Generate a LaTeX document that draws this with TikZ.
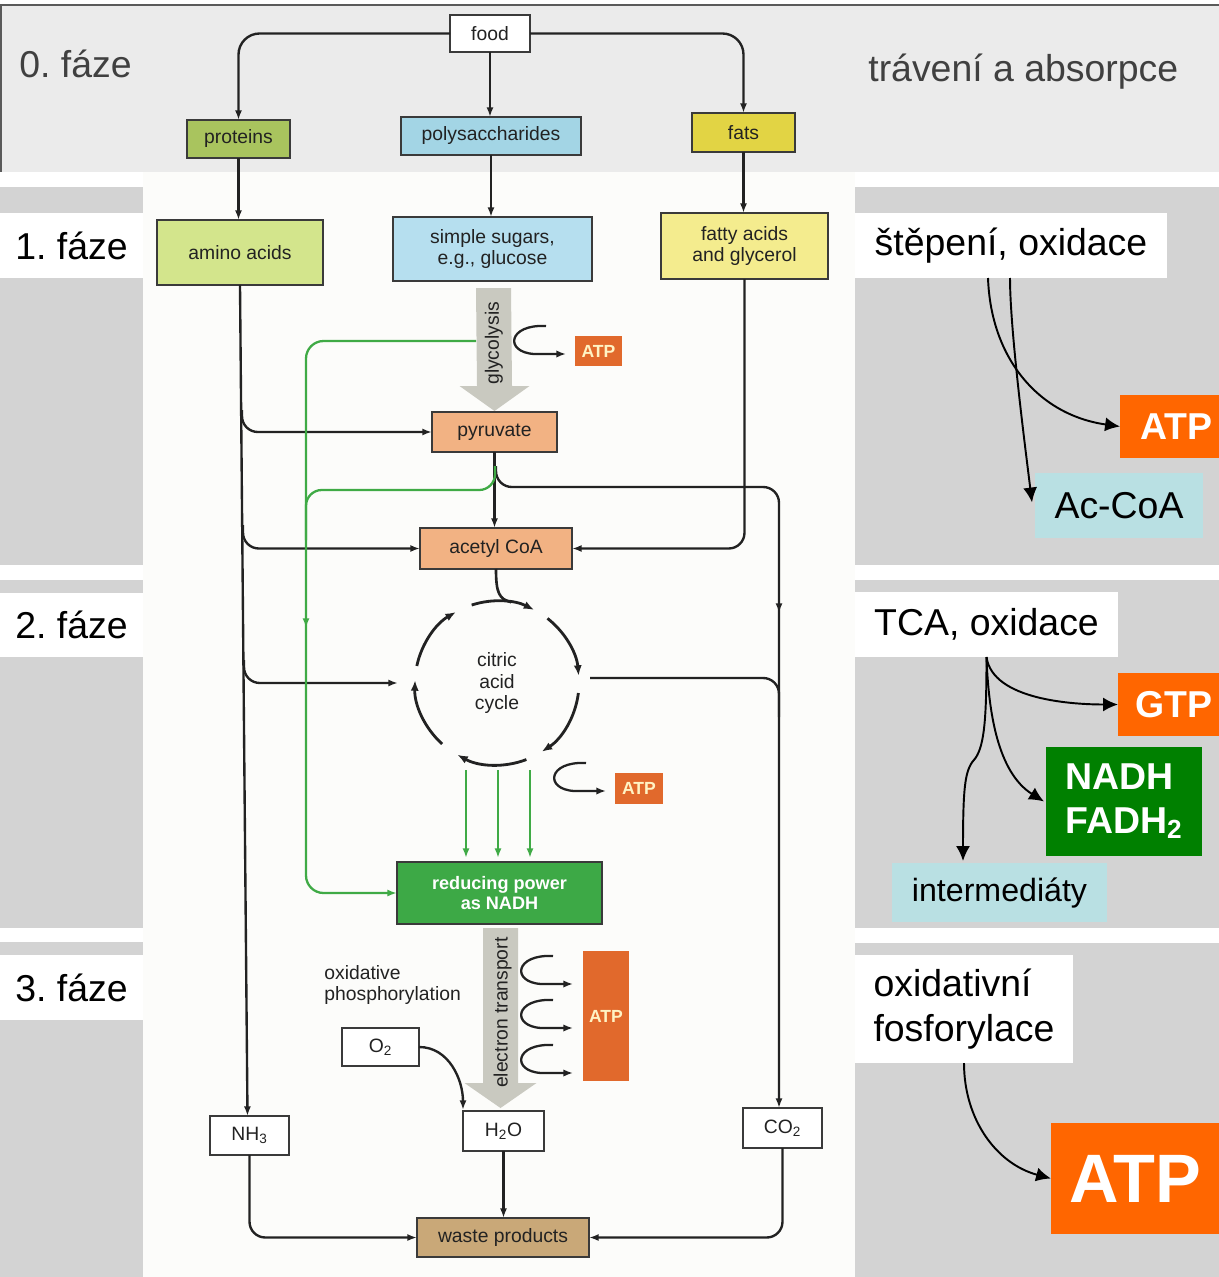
\documentclass[tikz,border=0pt]{standalone}
\usepackage{fontspec}
\setmainfont{Liberation Sans}
\usetikzlibrary{arrows.meta,calc}
\frenchspacing

\definecolor{bandgrey}{HTML}{EBEBEB}
\definecolor{panelgrey}{HTML}{D3D3D3}
\definecolor{topline}{HTML}{5A5A5A}
\definecolor{labgrey}{HTML}{404040}
\definecolor{inkc}{HTML}{222222}
\definecolor{boxline}{HTML}{3A3A3A}
\definecolor{cProt}{HTML}{A9C45E}
\definecolor{cPoly}{HTML}{A3D5E5}
\definecolor{cFats}{HTML}{E2D444}
\definecolor{cAmino}{HTML}{D3E58C}
\definecolor{cSugar}{HTML}{B6DFEF}
\definecolor{cFatty}{HTML}{F4EC8E}
\definecolor{cPyr}{HTML}{F2B283}
\definecolor{cAtp}{HTML}{E1692C}
\definecolor{cAtpTxt}{HTML}{FFF3C4}
\definecolor{cRed}{HTML}{3DA946}
\definecolor{cWaste}{HTML}{C9A878}
\definecolor{cArrow}{HTML}{C9C9C0}
\definecolor{cGreen}{HTML}{3FAA45}
\definecolor{rOrange}{HTML}{FF6600}
\definecolor{rCyan}{HTML}{B9E0E3}
\definecolor{rGreen}{HTML}{008000}
\definecolor{paper}{HTML}{FCFCFA}

\newcommand\fsmall{\fontsize{11}{12.5}\selectfont}
\newcommand\fbig{\fontsize{21.3}{25.5}\selectfont}
\newcommand\fhugeatp{\fontsize{39}{44}\selectfont\bfseries}

% C-shaped side arrow releasing ATP; #1 is the leftmost point of the curve
\newcommand\catp[1]{%
  \draw[carr] ($(#1)+(34,-14)$) .. controls ($(#1)+(-4,-16)$) and ($(#1)+(-8,12)$) .. ($(#1)+(22,14)$) -- ($(#1)+(54,14)$);}

\begin{document}
\begin{tikzpicture}[x=0.02cm,y=-0.02cm,
  wh/.style 2 args={minimum width=#1*0.02cm, minimum height=#2*0.02cm},
  dbox/.style={draw=boxline, line width=0.9pt, inner sep=0pt, outer sep=0pt,
    font=\fsmall, text=inkc, align=center},
  atps/.style={fill=cAtp, inner sep=0pt, outer sep=0pt, text=cAtpTxt,
    font=\fontsize{10}{12}\selectfont\bfseries},
  phase/.style={fill=white, inner sep=0pt, outer sep=0pt, font=\fbig, text=black},
  rlabel/.style={fill=white, inner sep=0pt, outer sep=0pt, font=\fbig, text=black, align=left},
  rbox/.style={inner sep=0pt, outer sep=0pt, font=\fbig, text=black},
  line/.style={draw=inkc, line width=1.35pt},
  arr/.style={line, -{Latex[length=5.5pt,width=4pt]}},
  gline/.style={draw=cGreen, line width=1.3pt},
  garr/.style={gline, -{Latex[length=5.5pt,width=4pt]}},
  cyc/.style={draw=inkc, line width=1.6pt, -{Latex[length=6pt,width=4.6pt]}},
  carr/.style={draw=inkc, line width=1.3pt, -{Latex[length=5.5pt,width=4.2pt]}},
  rarr/.style={draw=black, line width=1.1pt, -{Latex[length=8.5pt,width=8pt]}},
  bigarrow/.style={fill=cArrow}]

\useasboundingbox (0,0) rectangle (1219,1277);
\fill[white] (0,0) rectangle (1219,1277);

% ---------- background bands ----------
\fill[paper] (143,172) rectangle (855,1277);
\fill[bandgrey] (0,5) rectangle (1219,172);
\draw[topline, line width=1.2pt] (0,5) -- (1219,5);
\draw[topline, line width=1.2pt] (0.6,5) -- (0.6,172);

\fill[panelgrey] (0,187) rectangle (143,565);
\fill[panelgrey] (0,580) rectangle (143,928);
\fill[panelgrey] (0,942) rectangle (143,1277);
\fill[panelgrey] (855,187) rectangle (1219,565);
\fill[panelgrey] (855,580) rectangle (1219,928);
\fill[panelgrey] (855,943) rectangle (1219,1277);

% ---------- phase labels ----------
\node[font=\fbig, text=labgrey, anchor=base west, inner sep=0pt] (ph0) at (19,78) {0. fáze};
\node[font=\fbig, text=labgrey, anchor=base west, inner sep=0pt] (ph0r) at (868,82) {trávení a absorpce};
\node[phase, wh={143}{65}, anchor=north west] (ph1) at (0,213) {1. fáze};
\node[phase, wh={143}{64}, anchor=north west] (ph2) at (0,593) {2. fáze};
\node[phase, wh={143}{65}, anchor=north west] (ph3) at (0,955) {3. fáze};

% ---------- right column ----------
\node[rlabel, wh={312}{65}, anchor=north west] (r1) at (855,213) {štěpení, oxidace};
\node[rbox, fill=rOrange, text=white, font=\fbig\bfseries, wh={99}{63}, anchor=north west] (atpA) at (1120,395) {\hspace{8pt}ATP};
\node[rbox, fill=rCyan, wh={168}{65}, anchor=north west] (acoa) at (1035,473) {Ac-CoA};

\node[rlabel, wh={263}{65}, anchor=north west] (r2) at (855,592) {TCA, oxidace};
\node[rbox, fill=rOrange, text=white, font=\fbig\bfseries, wh={101}{63}, anchor=north west] (gtp) at (1118,673) {\hspace{6pt}GTP};
\node[rbox, fill=rGreen, text=white, font=\fbig\bfseries, align=left, wh={156}{109}, anchor=north west] (nadh) at (1046,747) {NADH\\[-1pt]FADH\textsubscript{2}};
\node[rbox, fill=rCyan, font=\fontsize{18.3}{22}\selectfont, wh={215}{59}, anchor=north west] (inter) at (892,863) {intermediáty};

\node[rlabel, wh={218}{108}, anchor=north west, inner xsep=18*0.02cm] (r3) at (855,955) {oxidativní\\fosforylace};
\node[rbox, fill=rOrange, text=white, font=\fhugeatp, wh={168}{111}, anchor=north west] (atpB) at (1051,1123) {ATP};

\coordinate (r1a) at ($(r1.south west)+(133,0)$);
\coordinate (r1b) at ($(r1.south west)+(155,0)$);
\draw[rarr] (r1a) to[out=-88,in=172,looseness=1.05] (atpA.west);
\draw[rarr] (r1b) to[out=-90,in=97,looseness=0.6] ($(acoa.west)+(-3,-3)$);

\coordinate (tipI) at ($(inter.north west)+(71,-2)$);
\draw[rarr] (r2.south) to[out=-82,in=180,looseness=0.8] (gtp.west);
\draw[rarr] (r2.south) to[out=-88,in=148,looseness=0.9] ($(nadh.west)+(-2,0)$);
\draw[rarr] (r2.south) .. controls ($(r2.south)+(0,60)$) and ($(r2.south)+(-2,88)$) .. ($(r2.south)+(-11,101)$)
  .. controls ($(r2.south)+(-21,112)$) and ($(tipI)+(0,-80)$) .. (tipI);
\draw[rarr] (r3.south) to[out=-90,in=165,looseness=1.0] (atpB.west);

% ---------- central scheme: boxes ----------
\node[dbox, fill=white, wh={80}{37}] (food) at (490,33.5) {food};
\node[dbox, fill=cProt, wh={103}{38}] (prot) at (238.5,139) {proteins};
\node[dbox, fill=cPoly, wh={180}{38}] (poly) at (491,136) {polysaccharides};
\node[dbox, fill=cFats, wh={103}{39}] (fats) at (743.5,132.5) {fats};
\node[dbox, fill=cAmino, wh={166}{65}] (amino) at (240,252.5) {amino acids};
\node[dbox, fill=cSugar, wh={199}{64}] (sugar) at (492.5,249) {simple sugars,\\e.g., glucose};
\node[dbox, fill=cFatty, wh={167}{66}] (fatty) at (744.5,246) {fatty acids\\and glycerol};
\node[dbox, fill=cPyr, wh={125}{40}] (pyr) at (494.5,432) {pyruvate};
\node[dbox, fill=cPyr, wh={152}{41}] (acoaC) at (496,548.5) {acetyl CoA};
\node[font=\fsmall, text=inkc, align=center] (tca) at (497,683) {citric\\acid\\cycle};
\node[atps, wh={47}{30}] (atp1) at (598.5,351) {ATP};
\node[atps, wh={48}{31}] (atp2) at (639,788.5) {ATP};
\node[dbox, fill=cRed, text=white, font=\fontsize{10.3}{11.6}\selectfont\bfseries, wh={205}{62}] (nadhC) at (499.5,893) {reducing power\\as NADH};
\node[atps, wh={46}{130}] (atp3) at (606,1016) {ATP};
\node[font=\fsmall, text=inkc, align=left, anchor=west, inner sep=0pt] (oxph) at (324,985) {oxidative\\phosphorylation};
\node[dbox, fill=white, wh={77}{38}] (o2) at (380.5,1047) {O\textsubscript{2}};
\node[dbox, fill=white, wh={79}{39}] (nh3) at (249.5,1135.5) {NH\textsubscript{3}};
\node[dbox, fill=white, wh={81}{40}] (h2o) at (503.5,1131) {H\textsubscript{2}O};
\node[dbox, fill=white, wh={79}{40}] (co2) at (782.5,1128) {CO\textsubscript{2}};
\node[dbox, fill=cWaste, wh={172}{39}] (waste) at (503,1237.5) {waste products};

% ---------- big grey process arrows ----------
\coordinate (gs) at ($(sugar.south)+(1,7)$);
\coordinate (gt) at ($(pyr.north)+(0,-1)$);
\fill[bigarrow] ($(gs)+(-17.5,0)$) -- ($(gs)+(17.5,0)$) -- ($(gt)+(17.5,-25)$) -- ($(gt)+(35,-25)$)
  -- (gt) -- ($(gt)+(-35,-25)$) -- ($(gt)+(-17.5,-25)$) -- cycle;
\node[rotate=90, font=\fsmall, text=inkc] (glyc) at ($(gs)!0.45!(gt)$) {glycolysis};

\coordinate (es) at ($(nadhC.south)+(1,4)$);
\coordinate (et) at ($(h2o.north)+(-3,-3)$);
\fill[bigarrow] ($(es)+(-17.5,0)$) -- ($(es)+(17.5,0)$) -- ($(et)+(17.5,-25)$) -- ($(et)+(36,-25)$)
  -- (et) -- ($(et)+(-36,-25)$) -- ($(et)+(-17.5,-25)$) -- cycle;
\node[rotate=90, font=\fsmall, text=inkc] (etr) at ($(es)!0.47!(et)+(2,0)$) {electron transport};

% ---------- digestion ----------
\draw[arr, rounded corners=12pt] (food.west) -| (prot.north);
\draw[arr, rounded corners=12pt] (food.east) -| (fats.north);
\draw[arr] (food.south) -- (food.south |- poly.north);
\draw[arr] (prot.south) -- (prot.south |- amino.north);
\draw[arr] (poly.south) -- (poly.south |- sugar.north);
\draw[arr] (fats.south) -- (fats.south |- fatty.north);

% ---------- amino acid trunk and its branches ----------
\draw[arr] (amino.south) -- ($(nh3.north)+(-2,0)$);
\coordinate (aj1) at (242,410);
\coordinate (aj2) at (243,525);
\coordinate (aj3) at (244,660);
\coordinate (cin) at (398,683);
\draw[arr, rounded corners=9pt] (aj1) |- (pyr.west);
\draw[arr, rounded corners=9pt] (aj2) |- (acoaC.west);
\draw[arr, rounded corners=9pt] (aj3) |- (cin);

% ---------- fatty acids, pyruvate ----------
\draw[arr, rounded corners=9pt] (fatty.south) |- (acoaC.east);
\draw[arr] (pyr.south) -- (pyr.south |- acoaC.north);

% black branch to CO2
\coordinate (pjb) at (496,466);
\coordinate (rv) at (779,487);
\coordinate (cout) at (590,678);
\draw[arr, rounded corners=9pt] (pjb) |- (rv) -- (rv |- co2.north);
\draw[line, rounded corners=9pt] (cout) -| ($(rv)+(0,230)$);
\draw[arr] ($(rv)+(0,100)$) -- ($(rv)+(0,126)$);

% green branches to reducing power
\coordinate (pjg) at (495,466);
\coordinate (g0) at ($(gs)+(-17.5,53)$);
\coordinate (gv) at (306,893);
\draw[gline, rounded corners=9pt] (pjg) |- (306,490) -- (306,540);
\draw[garr, rounded corners=10pt] (g0) -| (gv) -- (nadhC.west);
\draw[garr] (306,600) -- (306,628);
\coordinate (gd1) at (466,770); \coordinate (gd2) at (498,770); \coordinate (gd3) at (530,770);
\draw[garr] (gd1) -- ($(gd1 |- nadhC.north)+(0,-4)$);
\draw[garr] (gd2) -- ($(gd2 |- nadhC.north)+(0,-4)$);
\draw[garr] (gd3) -- ($(gd3 |- nadhC.north)+(0,-4)$);

% ---------- citric acid cycle ----------
\coordinate (cc) at (497,683);
\draw[cyc] (cc) ++(108:1.64cm) arc[start angle=108, end angle=63, radius=1.64cm];
\draw[cyc] (cc) ++(52:1.64cm) arc[start angle=52, end angle=5, radius=1.64cm];
\draw[cyc] (cc) ++(-7:1.64cm) arc[start angle=-7, end angle=-57, radius=1.64cm];
\draw[cyc] (cc) ++(-69:1.64cm) arc[start angle=-69, end angle=-119, radius=1.64cm];
\draw[cyc] (cc) ++(-132:1.64cm) arc[start angle=-132, end angle=-182, radius=1.64cm];
\draw[cyc] (cc) ++(168:1.64cm) arc[start angle=168, end angle=120, radius=1.64cm];
\draw[line, line width=1.5pt] (acoaC.south) .. controls ($(acoaC.south)+(0,24)$) and ($(acoaC.south)+(3,30)$) .. ($(cc)+(80:1.64cm)$);

% ---------- ATP release ----------
\coordinate (c1) at (512,340);
\coordinate (c2) at (552,777);
\coordinate (c3) at (519,970);
\coordinate (c4) at (519,1014);
\coordinate (c5) at (519,1059);
\catp{c1}
\catp{c2}
\catp{c3}
\catp{c4}
\catp{c5}

% ---------- oxidative phosphorylation and waste ----------
\draw[arr] (o2.east) to[out=0,in=90] ($(h2o.north west)+(0,-1)$);
\draw[arr, rounded corners=9pt] (nh3.south) |- (waste.west);
\draw[arr, rounded corners=9pt] (co2.south) |- (waste.east);
\draw[arr] (h2o.south) -- (h2o.south |- waste.north);

\end{tikzpicture}
\end{document}
